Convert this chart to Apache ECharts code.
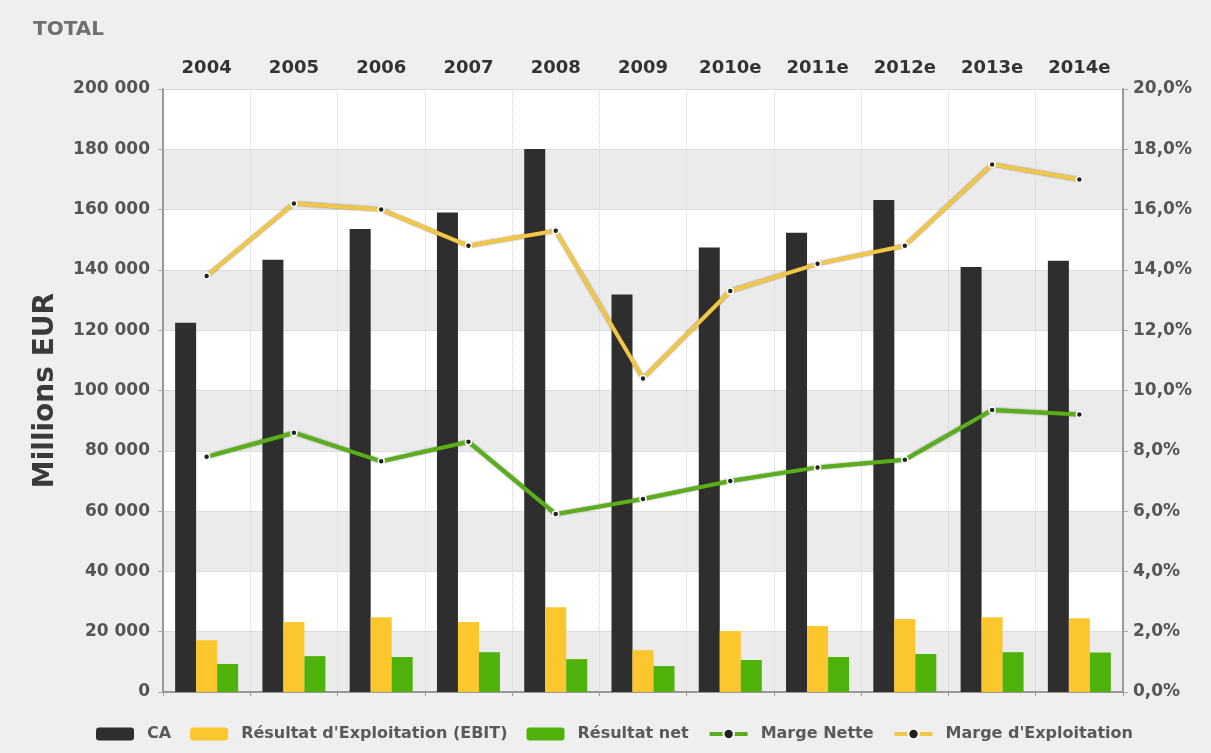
<!DOCTYPE html>
<html>
<head>
<meta charset="utf-8">
<script src="https://cdn.jsdelivr.net/npm/echarts@6/dist/echarts.min.js"></script>
<style>
html,body{margin:0;padding:0;background:#efefef;}
#c{width:1211px;height:753px;}
</style>
</head>
<body>
<div id="c"></div>
<script>
var categories = ['2004','2005','2006','2007','2008','2009','2010e','2011e','2012e','2013e','2014e'];
var ca = [122500, 143400, 153600, 159000, 180100, 131800, 147400, 152300, 163200, 141000, 143000];
var ebit = [17200, 23200, 24800, 23200, 28100, 13900, 20200, 21900, 24200, 24800, 24500];
var net = [9300, 11900, 11600, 13200, 10900, 8600, 10600, 11600, 12600, 13200, 13100];
var margeNette = [7.8, 8.6, 7.65, 8.3, 5.9, 6.4, 7.0, 7.45, 7.7, 9.35, 9.2];
var margeExpl = [13.8, 16.2, 16.0, 14.8, 15.3, 10.4, 13.3, 14.2, 14.8, 17.5, 17.0];

var FONT = 'DejaVu Sans, Verdana, sans-serif';
var chart = echarts.init(document.getElementById('c'));
var labelStyle = {color:'#555555', fontWeight:'bold', fontSize:17, fontFamily:FONT};
function fmtThousands(v){ return String(v).replace(/\B(?=(\d{3})+(?!\d))/g, ' '); }
chart.setOption({
  backgroundColor:'#efefef',
  animation:false,
  title:{text:'TOTAL', left:28, top:15, textStyle:{color:'#707070', fontSize:20, fontWeight:'bold', fontFamily:FONT}},
  grid:{left:163, right:88, top:89, bottom:61, containLabel:false},
  legend:{
    bottom:6, left:91, itemWidth:38, itemHeight:13, itemGap:19,
    lineStyle:{width:4},
    textStyle:{color:'#5a5a5a', fontSize:16, fontWeight:'bold', fontFamily:FONT, padding:[0,0,0,8]},
    data:['CA',"Résultat d'Exploitation (EBIT)",'Résultat net','Marge Nette',"Marge d'Exploitation"]
  },
  xAxis:[
    {type:'category', data:categories, position:'top',
     axisLine:{show:true, lineStyle:{color:'#999', width:2}},
     axisTick:{show:false},
     axisLabel:{margin:12, color:'#333', fontWeight:'bold', fontSize:18, fontFamily:FONT},
     splitLine:{show:true, lineStyle:{color:'#d4d4d4', type:'dotted'}}
    },
    {type:'category', data:categories, position:'bottom',
     axisLine:{show:true, lineStyle:{color:'#999', width:2}},
     axisTick:{show:true, length:4, lineStyle:{color:'#999'}},
     axisLabel:{show:false}, splitLine:{show:false}
    }
  ],
  yAxis:[
    {type:'value', min:0, max:200000, interval:20000, position:'left',
     name:'Millions EUR', nameLocation:'middle', nameGap:103, nameRotate:90,
     nameTextStyle:{color:'#3a3a3a', fontSize:28, fontWeight:'bold', fontFamily:FONT},
     axisLine:{show:true, lineStyle:{color:'#999', width:2}},
     axisTick:{show:true, length:5, lineStyle:{color:'#aaa'}},
     axisLabel:Object.assign({margin:13, formatter:fmtThousands}, labelStyle),
     splitLine:{show:true, lineStyle:{color:'#dcdcdc'}},
     splitArea:{show:true, areaStyle:{color:['#ebebeb','#ffffff']}}
    },
    {type:'value', min:0, max:20, interval:2, position:'right',
     axisLine:{show:true, lineStyle:{color:'#999', width:2}},
     axisTick:{show:true, length:5, lineStyle:{color:'#aaa'}},
     axisLabel:Object.assign({margin:10, formatter:function(v){return v.toFixed(1).replace('.',',')+'%';}}, labelStyle),
     splitLine:{show:false}
    }
  ],
  series:[
    {name:'CA', type:'bar', data:ca, barWidth:21, barGap:'0%', itemStyle:{color:'#2e2e2e'}},
    {name:"Résultat d'Exploitation (EBIT)", type:'bar', data:ebit, barWidth:21, itemStyle:{color:'#fcc72c'}},
    {name:'Résultat net', type:'bar', data:net, barWidth:21, itemStyle:{color:'#4fb20a'}},
    {name:'Marge Nette', type:'line', yAxisIndex:1, data:margeNette, symbol:'circle', symbolSize:6,
     itemStyle:{color:'#222', borderColor:'#fff', borderWidth:1.5},
     lineStyle:{color:'#5aae1c', width:4, shadowColor:'rgba(40,70,10,0.7)', shadowBlur:2}},
    {name:"Marge d'Exploitation", type:'line', yAxisIndex:1, data:margeExpl, symbol:'circle', symbolSize:6,
     itemStyle:{color:'#222', borderColor:'#fff', borderWidth:1.5},
     lineStyle:{color:'#f1c74a', width:4, shadowColor:'rgba(90,70,20,0.7)', shadowBlur:2}}
  ]
});
</script>
</body>
</html>
